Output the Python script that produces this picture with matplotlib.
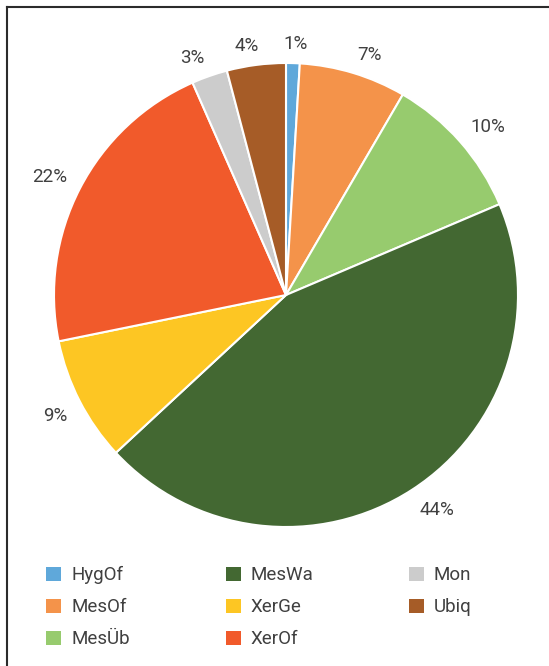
import matplotlib
matplotlib.use("Agg")
from matplotlib import pyplot as plt
from matplotlib.patches import Patch
from matplotlib.lines import Line2D
import numpy as np

# data (percent shares)
groups = ["HygOf", "MesOf", "MesÜb", "MesWa", "XerGe", "XerOf", "Mon", "Ubiq"]
shares = [0.95, 7.45, 10.2, 44.5, 8.7, 21.6, 2.5, 4.1]
pct_labels = ["1%", "7%", "10%", "44%", "9%", "22%", "3%", "4%"]
colors = ["#5FA8DA", "#F4934A", "#97CB6E", "#436832",
          "#FDC623", "#F15A2B", "#CCCCCC", "#A65C27"]

plt.rcParams['font.family'] = ['Roboto', 'DejaVu Sans']
txt_col = "#404040"
fsize = 13.5

W, H = 549, 666
fig = plt.figure(figsize=(W / 100, H / 100), dpi=100)

# pie axes: centre (286, 295) px, radius 232 px
cx, cy, r = 286, 295, 232
ax = fig.add_axes([(cx - r) / W, (H - cy - r) / H, 2 * r / W, 2 * r / H])
wedges, texts = ax.pie(shares, labels=pct_labels, colors=colors, startangle=90,
                       counterclock=False, labeldistance=1.1, radius=1,
                       wedgeprops=dict(edgecolor="white", linewidth=1.5),
                       textprops=dict(fontsize=fsize, color=txt_col))
ax.set_xlim(-1, 1)
ax.set_ylim(-1, 1)
ax.set_aspect("auto")
ax.axis("off")

# labels "outside end" like the office chart: anchor a gap off the rim,
# text box pushed outward so its corner sits near the anchor
fig.canvas.draw()
gap = 14
cap = 0.711 * fsize * 100 / 72
for w, t in zip(wedges, texts):
    ang = np.deg2rad((w.theta1 + w.theta2) / 2)
    c, s = np.cos(ang), np.sin(ang)
    hw = t.get_window_extent().width / 2
    hh = cap / 2
    px = (r + gap) * c + hw * np.clip(5 * c, -1, 1)
    py = (r + gap) * s + hh * np.clip(5 * s, -1, 1) - hh
    t.set_position((px / r, py / r))
    t.set_horizontalalignment("center")
    t.set_verticalalignment("baseline")

# legend, column-major in 3 columns
handles = [Patch(facecolor=c, edgecolor="none") for c in colors]
fig.legend(handles, groups, ncol=3, loc="upper left",
           bbox_to_anchor=(37 / W, 1 - 557 / H), frameon=False, borderpad=0,
           fontsize=fsize, labelcolor=txt_col, handlelength=0.8, handleheight=0.8,
           handletextpad=0.53, columnspacing=5.1, labelspacing=0.74)

# frame: top and left lines only
fig.add_artist(Line2D([7 / W, 1], [1 - 6.5 / H, 1 - 6.5 / H], color="#2b2b2b", lw=1.5,
                      transform=fig.transFigure))
fig.add_artist(Line2D([7 / W, 7 / W], [0, 1 - 6.5 / H], color="#2b2b2b", lw=1.5,
                      transform=fig.transFigure))

fig.savefig("out.png", dpi=100, facecolor="white")
